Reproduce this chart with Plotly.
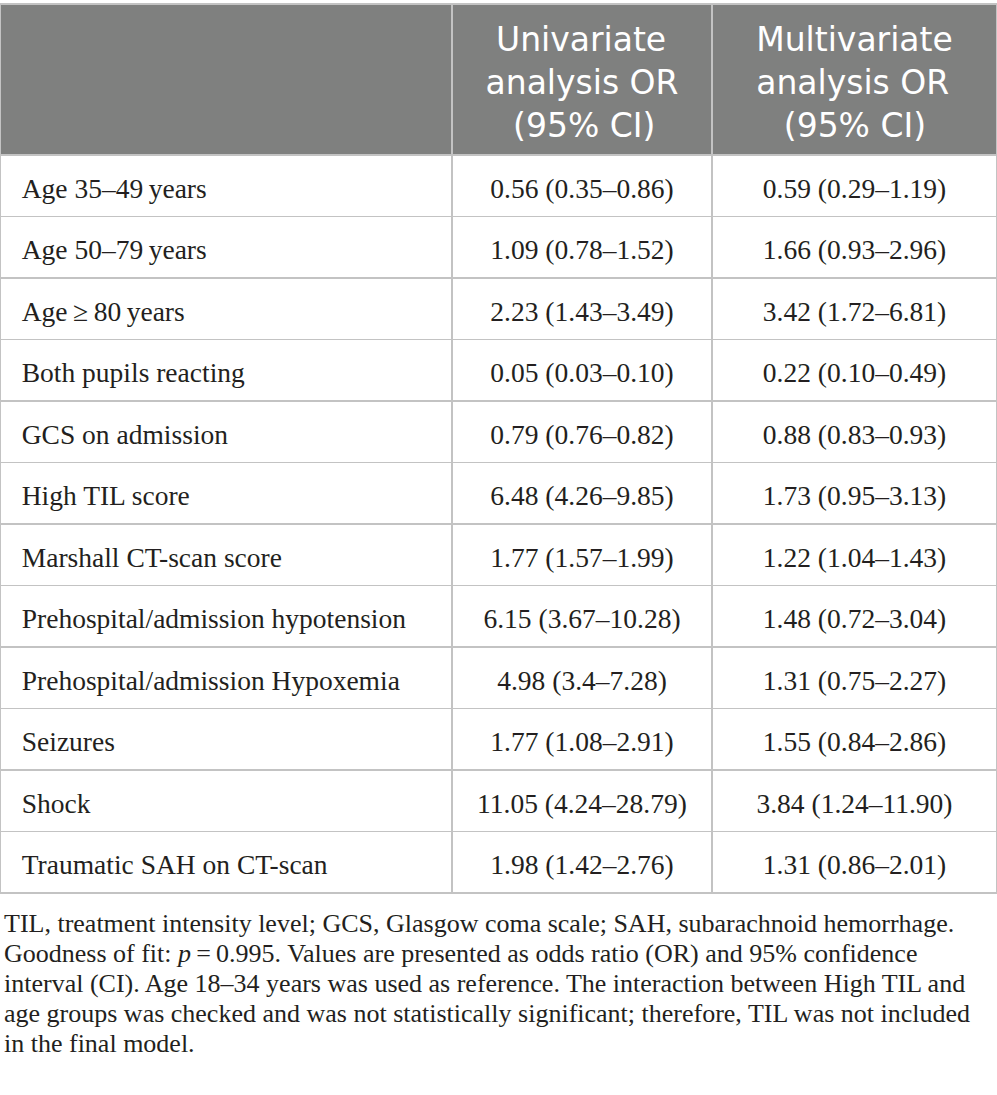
import plotly.graph_objects as go

# table contents
NB = "\u00a0"
header = [
    "",
    NB + "Univariate<br>analysis OR<br>" + NB * 2 + "\u2009(95% CI)",
    "Multivariate<br>analysis OR<br>" + NB * 2 + "\u2009(95% CI)",
]

variables = [
    "Age 35\u201349\u2009years",
    "Age 50\u201379\u2009years",
    "Age\u2009\u2265\u200980\u2009years",
    "Both pupils reacting",
    "GCS on admission",
    "High TIL score",
    "Marshall CT-scan score",
    "Prehospital/admission hypotension",
    "Prehospital/admission Hypoxemia",
    "Seizures",
    "Shock",
    "Traumatic SAH on CT-scan",
]

univariate = [
    "0.56 (0.35\u20130.86)",
    "1.09 (0.78\u20131.52)",
    "2.23 (1.43\u20133.49)",
    "0.05 (0.03\u20130.10)",
    "0.79 (0.76\u20130.82)",
    "6.48 (4.26\u20139.85)",
    "1.77 (1.57\u20131.99)",
    "6.15 (3.67\u201310.28)",
    "4.98 (3.4\u20137.28)",
    "1.77 (1.08\u20132.91)",
    "11.05 (4.24\u201328.79)",
    "1.98 (1.42\u20132.76)",
]

multivariate = [
    "0.59 (0.29\u20131.19)",
    "1.66 (0.93\u20132.96)",
    "3.42 (1.72\u20136.81)",
    "0.22 (0.10\u20130.49)",
    "0.88 (0.83\u20130.93)",
    "1.73 (0.95\u20133.13)",
    "1.22 (1.04\u20131.43)",
    "1.48 (0.72\u20133.04)",
    "1.31 (0.75\u20132.27)",
    "1.55 (0.84\u20132.86)",
    "3.84 (1.24\u201311.90)",
    "1.31 (0.86\u20132.01)",
]

footnote = [
    "TIL, treatment intensity level; GCS, Glasgow coma scale; SAH, subarachnoid hemorrhage.",
    "Goodness of fit: <i>p</i>\u2009=\u20090.995. Values are presented as odds ratio (OR) and 95% confidence",
    "interval (CI). Age 18\u201334 years was used as reference. The interaction between High TIL and",
    "age groups was checked and was not statistically significant; therefore, TIL was not included",
    "in the final model.",
]

W, H = 997, 1095
LINE = "#c3c3c3"
CLEAR = "rgba(0,0,0,0)"
COLW = [452, 260, 285]
TOP = 4          # table top (px)
HEAD_H = 151     # header height
ROW_H = 61.5     # body row height
HEAD_DY = 8      # push header text down
BODY_DY = 14     # push body text down (plotly puts cell text at the top)

fig = go.Figure()

# grid: fills and borders only
fig.add_trace(go.Table(
    domain=dict(x=[0, 1], y=[1 - 905 / H, 1 - TOP / H]),
    columnwidth=COLW,
    header=dict(values=["", "", ""], fill_color="#7f807f", line_color=LINE,
                line_width=1.5, height=HEAD_H),
    cells=dict(values=[[""] * len(variables)] * 3, fill_color="white",
               line_color=LINE, line_width=1.5, height=ROW_H),
))

# text layer, shifted so the text sits in the middle of each cell
fig.add_trace(go.Table(
    domain=dict(x=[0, 1], y=[1 - 930 / H, 1 - (TOP + HEAD_DY) / H]),
    columnwidth=COLW,
    header=dict(
        values=header,
        fill_color=CLEAR, line_color=CLEAR, line_width=0,
        align="center",
        height=HEAD_H + BODY_DY - HEAD_DY,
        font=dict(family="DejaVu Sans", size=33, color="white"),
    ),
    cells=dict(
        values=[[NB * 2 + v for v in variables], univariate, multivariate],
        fill_color=CLEAR, line_color=CLEAR, line_width=0,
        align=["left", "center", "center"],
        height=ROW_H,
        font=dict(family="Liberation Serif", size=27.5, color="#231f20"),
    ),
))

for i, line in enumerate(footnote):
    fig.add_annotation(
        text=line,
        xref="paper", yref="paper", x=0.002, y=1 - (923 + 30 * i) / H,
        xanchor="left", yanchor="middle", align="left", showarrow=False,
        font=dict(family="Liberation Serif", size=26, color="#231f20"),
    )

fig.update_layout(
    width=W, height=H,
    margin=dict(l=0, r=0, t=0, b=0),
    paper_bgcolor="white",
)

fig.write_html("out.html", config={"displayModeBar": False},
               post_script="document.body.style.margin='0';")
